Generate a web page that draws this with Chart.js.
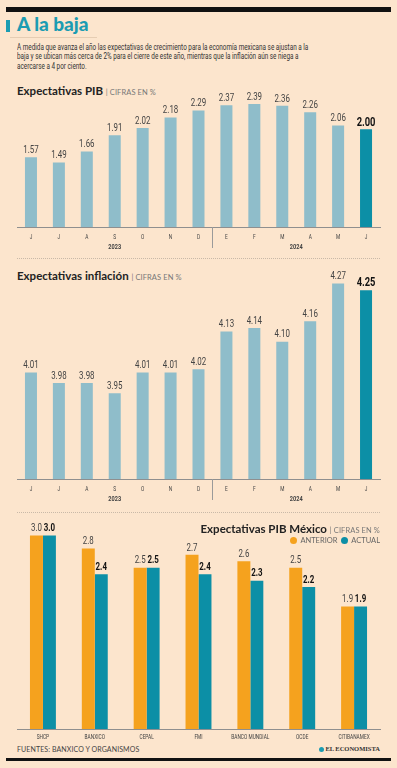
<!DOCTYPE html>
<html>
<head>
<meta charset="utf-8">
<script src="https://cdn.jsdelivr.net/npm/chart.js@4.4.1/dist/chart.umd.min.js"></script>
<style>
  body { margin: 0; width: 397px; height: 768px; background: #fce5cd; position: relative; overflow: hidden; font-family: Lato, "Open Sans", sans-serif; color: #222; }
  .abs { position: absolute; }
  .bar { background: #111; left: 6px; width: 385px; }
  .narrow { font-family: Roboto, sans-serif; }
  .h2 { font-weight: bold; font-size: 11.5px; white-space: nowrap; }
  .h2 span { font-weight: normal; font-size: 7.5px; color: #777; letter-spacing: 0.1px; }
  .sep { left: 17px; width: 363px; border-top: 1px dotted #c9b9a8; height: 0; }
  canvas { position: absolute; left: 0; }
  .dot { display: inline-block; width: 7px; height: 7px; border-radius: 50%; vertical-align: -1px; margin-right: 3px; }
</style>
</head>
<body>
<div class="abs bar" style="top:7px;height:5px"></div>
<div class="abs" style="left:6px;top:20px;width:4px;height:12px;background:#1b9cb2"></div>
<div class="abs" style="left:17px;top:14px;font-size:19px;font-weight:900;color:#1b9cb2;line-height:20px">A la baja</div>
<div class="abs" style="left:10px;top:37px;width:87px;height:1px;background:#e6cdb3"></div>
<div id="desc" class="abs narrow" style="left:17px;top:43px;font-size:9px;line-height:9.4px;color:#333;transform-origin:0 0;white-space:nowrap">
  <div>A medida que avanza el año las expectativas de crecimiento para la economía mexicana se ajustan a la</div>
  <div>baja y se ubican más cerca de 2% para el cierre de este año, mientras que la inflación aún se niega a</div>
  <div>acercarse a 4 por ciento.</div>
</div>

<div class="abs h2" style="left:17px;top:84px">Expectativas PIB <span>| CIFRAS EN %</span></div>
<canvas id="c1" width="397" height="175" style="top:80px"></canvas>
<div class="abs sep" style="top:258px"></div>

<div class="abs h2" style="left:17px;top:269px">Expectativas inflación <span>| CIFRAS EN %</span></div>
<canvas id="c2" width="397" height="247" style="top:260px"></canvas>
<div class="abs sep" style="top:512px"></div>

<canvas id="c3" width="397" height="230" style="top:515px"></canvas>
<div class="abs h2" style="right:17px;top:522px">Expectativas PIB México <span>| CIFRAS EN %</span></div>
<div class="abs" style="right:17px;top:536px;font-size:7.5px;color:#666;white-space:nowrap">
  <span class="dot" style="background:#f5a21e"></span>ANTERIOR &nbsp;<span class="dot" style="background:#0c8fa6"></span>ACTUAL
</div>

<div class="abs" style="left:17px;top:745px;font-size:7px;color:#444;letter-spacing:0.1px">FUENTES: BANXICO Y ORGANISMOS</div>
<div class="abs" style="right:17px;top:745px;font-size:6.5px;font-family:'Liberation Serif',serif;font-weight:bold;color:#333;white-space:nowrap">
  <span class="dot" style="background:#1b9cb2;width:5px;height:5px;margin-right:1px"></span>EL ECONOMISTA
</div>
<div class="abs bar" style="top:758px;height:3px"></div>

<script>
// --- data ---
const months = ['J', 'J', 'A', 'S', 'O', 'N', 'D', 'E', 'F', 'M', 'A', 'M', 'J'];
const yearLabels = ['2023', '2024'];
const yearSpans = [[0, 6], [7, 12]];
const pibValues = [1.57, 1.49, 1.66, 1.91, 2.02, 2.18, 2.29, 2.37, 2.39, 2.36, 2.26, 2.06, 2.00];
const inflacionValues = [4.01, 3.98, 3.98, 3.95, 4.01, 4.01, 4.02, 4.13, 4.14, 4.10, 4.16, 4.27, 4.25];
const organismos = ['SHCP', 'BANXICO', 'CEPAL', 'FMI', 'BANCO MUNDIAL', 'OCDE', 'CITIBANAMEX'];
const anterior = [3.0, 2.8, 2.5, 2.7, 2.6, 2.5, 1.9];
const actual = [3.0, 2.4, 2.5, 2.4, 2.3, 2.2, 1.9];

const FONT = 'Roboto, sans-serif';
const LIGHT = '#8fbdca';
const TEAL = '#0c8fa6';
const ORANGE = '#f5a21e';

// squeeze the intro text to the column width
const desc = document.getElementById('desc');
desc.style.transform = 'scaleX(' + (291 / desc.firstElementChild.scrollWidth) + ')';

// the original uses a condensed face, so squeeze text horizontally
const squeezeText = (ctx, text, x, y, font, color, sx) => {
  ctx.save();
  ctx.font = font;
  ctx.fillStyle = color;
  ctx.textAlign = 'center';
  ctx.textBaseline = 'middle';
  ctx.translate(x, y);
  ctx.scale(sx, 1);
  ctx.fillText(text, 0, 0);
  ctx.restore();
};

// numbers above the bars
const valueLabels = {
  id: 'valueLabels',
  afterDatasetsDraw(chart, args, opts) {
    chart.data.datasets.forEach((ds, di) => {
      chart.getDatasetMeta(di).data.forEach((bar, i) => {
        const bold = opts.isBold(di, i);
        squeezeText(chart.ctx, ds.data[i].toFixed(opts.decimals), bar.x, bar.y - opts.gap,
          bold ? opts.boldFont : opts.font, bold ? '#111' : '#444', 0.72);
      });
    });
  }
};

// category labels (and years + divider for the monthly charts)
const axisLabels = {
  id: 'axisLabels',
  afterDraw(chart, args, opts) {
    const x = chart.scales.x, ctx = chart.ctx, bottom = chart.chartArea.bottom;
    chart.data.labels.forEach((lab, i) => {
      squeezeText(ctx, lab, x.getPixelForValue(i), bottom + opts.offset, '8px ' + FONT, '#444', 0.6);
    });
    if (!opts.years) return;
    yearSpans.forEach((s, k) => {
      const cx = (x.getPixelForValue(s[0]) + x.getPixelForValue(s[1])) / 2;
      squeezeText(ctx, yearLabels[k], cx, bottom + 20, 'bold 8px ' + FONT, '#444', 0.7);
    });
    const dx = Math.round((x.getPixelForValue(yearSpans[0][1]) + x.getPixelForValue(yearSpans[1][0])) / 2) + 0.5;
    ctx.save();
    ctx.strokeStyle = '#9a9a9a';
    ctx.lineWidth = 1;
    ctx.beginPath();
    ctx.moveTo(dx, bottom);
    ctx.lineTo(dx, bottom + 21);
    ctx.stroke();
    ctx.restore();
  }
};

const xAxis = (h) => ({
  grid: { display: false },
  border: { display: true, color: '#8f8f8f', width: 1 },
  ticks: { display: false },
  afterFit(s) { s.height = h; }
});

const monthChart = (id, values, min, max, top) => new Chart(document.getElementById(id), {
  type: 'bar',
  data: {
    labels: months,
    datasets: [{
      data: values,
      backgroundColor: values.map((v, i) => i === values.length - 1 ? TEAL : LIGHT),
      barPercentage: 0.43,
      categoryPercentage: 1
    }]
  },
  options: {
    responsive: false,
    animation: false,
    layout: { padding: { left: 17, right: 17, top: top, bottom: 0 } },
    scales: {
      x: xAxis(28),
      y: { display: false, min: min, max: max }
    },
    plugins: {
      legend: { display: false },
      tooltip: { enabled: false },
      valueLabels: {
        decimals: 2,
        gap: 7,
        font: '11px ' + FONT,
        boldFont: 'bold 13px ' + FONT,
        isBold: (di, i) => i === values.length - 1
      },
      axisLabels: { offset: 10, years: true }
    }
  },
  plugins: [valueLabels, axisLabels]
});

monthChart('c1', pibValues, 0.5, 2.45, 20);
monthChart('c2', inflacionValues, 3.7, 4.309, 10);

new Chart(document.getElementById('c3'), {
  type: 'bar',
  data: {
    labels: organismos,
    datasets: [
      { label: 'ANTERIOR', data: anterior, backgroundColor: ORANGE, categoryPercentage: 0.5, barPercentage: 1 },
      { label: 'ACTUAL', data: actual, backgroundColor: TEAL, categoryPercentage: 0.5, barPercentage: 1 }
    ]
  },
  options: {
    responsive: false,
    animation: false,
    layout: { padding: { left: 17, right: 17, top: 15, bottom: 0 } },
    scales: {
      x: xAxis(16),
      y: { display: false, min: 0, max: 3.085 }
    },
    plugins: {
      legend: { display: false },
      tooltip: { enabled: false },
      valueLabels: {
        decimals: 1,
        gap: 7,
        font: '11px ' + FONT,
        boldFont: 'bold 11px ' + FONT,
        isBold: (di, i) => di === 1
      },
      axisLabels: { offset: 8, years: false }
    }
  },
  plugins: [valueLabels, axisLabels]
});
</script>
</body>
</html>
